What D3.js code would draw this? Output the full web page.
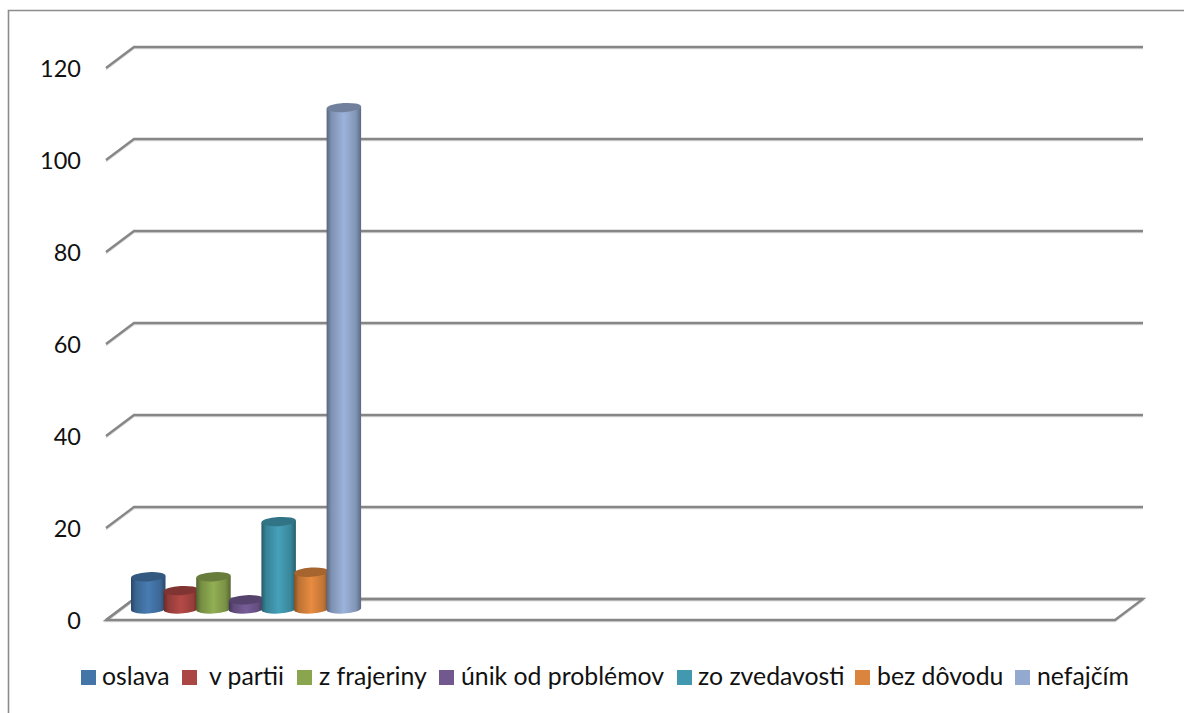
<!DOCTYPE html>
<html>
  <head>
    <meta charset="utf-8" />
    <script src="https://d3js.org/d3.v7.min.js"></script>
    <style>
      html, body {
        margin: 0;
        background-color: white;
      }
      svg {
        display: block;
      }
      text {
        font-family: Lato, sans-serif;
        fill: #111;
      }
    </style>
  </head>
  <body>
    <div id="chart"></div>
    <script>
      const categories = ["oslava", "v partii", "z frajeriny", "únik od problémov", "zo zvedavosti", "bez dôvodu", "nefajčím"];
      const values = [7, 4, 7, 2, 19, 8, 109];
      const yTicks = [0, 20, 40, 60, 80, 100, 120];
      const colors = ["#4475a9", "#aa4643", "#89a54e", "#71588f", "#4198af", "#db843d", "#93a9cf"];

      const width = 1184;
      const height = 713;

      // floor plane: front edge, and how far the back wall sits from it
      const floor = {left: 106, right: 1115, front: 620, depthX: 28, depthY: 21};
      const unit = 4.6; // px per value

      const svg = d3.select("#chart").append("svg")
        .attr("width", width)
        .attr("height", height);

      const yFront = d3.scaleLinear()
        .domain([0, 120])
        .range([floor.front, floor.front - 120 * unit]);
      const yBack = d => yFront(d) - floor.depthY;
      const yBar = d => yFront(d) - floor.depthY / 2 - 0.5;

      const barStep = 32.6;
      const x = d3.scaleBand()
        .domain(categories)
        .range([131, 131 + barStep * categories.length]);
      const barWidth = 34.5;
      const rx = barWidth / 2;
      const ry = 4.6;
      const tilt = -3.5;

      // outer frame, only top and left are in view
      svg.append("path")
        .attr("d", `M8.5,${height}V10.5H${width}`)
        .attr("fill", "none")
        .attr("stroke", "#8c8c8c")
        .attr("stroke-width", 1.6);

      const defs = svg.append("defs");
      const shade = defs.selectAll("linearGradient")
        .data(colors)
        .join("linearGradient")
          .attr("id", (d, i) => `shade${i}`)
          .attr("x1", 0).attr("x2", 1).attr("y1", 0).attr("y2", 0);
      const stops = [[0, 0.6], [0.14, 0.86], [0.5, 1.06], [0.85, 0.88], [1, 0.62]];
      stops.forEach(([offset, k]) => {
        shade.append("stop")
          .attr("offset", offset)
          .attr("stop-color", d => {
            const c = d3.rgb(d);
            return d3.rgb(c.r * k, c.g * k, c.b * k).formatHex();
          });
      });

      // wall lines with the short slanted piece at the left end
      const grid = svg.append("g")
        .attr("fill", "none")
        .attr("stroke-linejoin", "miter");
      const gridPath = d => `M${floor.left},${yFront(d)}L${floor.left + floor.depthX},${yBack(d)}H${floor.right + floor.depthX}`;
      const floorPath = `M${floor.left + floor.depthX},${yBack(0)}H${floor.right + floor.depthX}L${floor.right},${floor.front}H${floor.left}Z`;

      grid.selectAll("path.shadow")
        .data(yTicks)
        .join("path")
          .attr("class", "shadow")
          .attr("d", gridPath)
          .attr("transform", "translate(0,1.6)")
          .attr("stroke", "#d9d9d9")
          .attr("stroke-width", 1.5);
      grid.append("path")
        .attr("d", floorPath)
        .attr("transform", "translate(0,1.6)")
        .attr("stroke", "#d9d9d9")
        .attr("stroke-width", 1.5);
      grid.selectAll("path.line")
        .data(yTicks)
        .join("path")
          .attr("class", "line")
          .attr("d", gridPath)
          .attr("stroke", "#868686")
          .attr("stroke-width", 2.3);
      grid.append("path")
        .attr("d", floorPath)
        .attr("stroke", "#868686")
        .attr("stroke-width", 2.3);

      // value labels
      const axis = svg.append("g")
        .attr("transform", `translate(${floor.left},1)`)
        .call(d3.axisLeft(yFront).tickValues(yTicks).tickSize(0).tickPadding(25));
      axis.select(".domain").remove();
      axis.selectAll("text")
        .attr("font-size", 23.5)
        .style("font-family", "Lato, sans-serif");

      // cylinders, later ones sit over the earlier ones
      const bars = svg.append("g")
        .selectAll("g")
        .data(categories)
        .join("g");

      bars.append("path")
        .attr("fill", (d, i) => `url(#shade${i})`)
        .attr("d", (d, i) => {
          const left = x(d);
          const right = left + barWidth;
          const lift = rx * Math.sin(-tilt * Math.PI / 180);
          const top = yBar(values[i]);
          const base = yBar(0);
          return `M${left},${top + lift}L${right},${top - lift}L${right},${base - lift}`
            + `A${rx},${ry} ${tilt} 0 1 ${left},${base + lift}Z`;
        });

      bars.append("ellipse")
        .attr("cx", d => x(d) + rx)
        .attr("cy", (d, i) => yBar(values[i]))
        .attr("rx", rx)
        .attr("ry", ry)
        .attr("transform", (d, i) => `rotate(${tilt} ${x(d) + rx} ${yBar(values[i])})`)
        .attr("fill", (d, i) => {
          const c = d3.rgb(colors[i]);
          return d3.rgb(c.r * 0.76, c.g * 0.76, c.b * 0.76).formatHex();
        });

      // legend
      const legendX = [81, 182, 297, 439, 677, 855, 1015];
      const legendTextX = [102, 209, 319, 461, 698, 877, 1037];
      const legend = svg.append("g")
        .selectAll("g")
        .data(categories)
        .join("g");

      legend.append("rect")
        .attr("x", (d, i) => legendX[i])
        .attr("y", 670)
        .attr("width", 15)
        .attr("height", 15)
        .attr("fill", (d, i) => colors[i]);

      legend.append("text")
        .attr("x", (d, i) => legendTextX[i])
        .attr("y", 685)
        .attr("font-size", 24.8)
        .text(d => d);
    </script>
  </body>
</html>
